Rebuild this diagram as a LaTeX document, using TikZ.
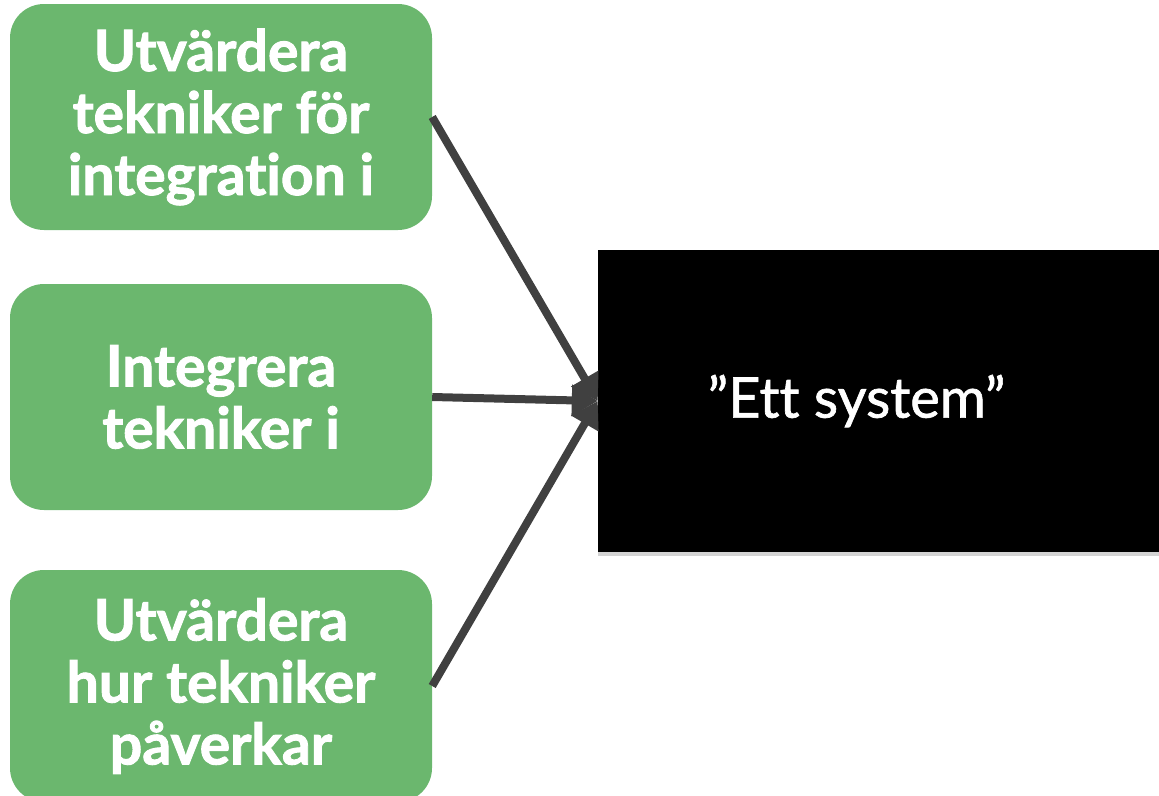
\documentclass[tikz,border=0pt]{standalone}
\usepackage{fontspec}
\setmainfont{Lato}[Ligatures=NoCommon, BoldFeatures={FakeBold=1.6}]
\newfontfamily\sysfont{Lato}[Ligatures=NoCommon, FakeBold=1.2]
\usetikzlibrary{arrows.meta,shadows}
\definecolor{boxgreen}{RGB}{107,183,110}
\definecolor{arrowgrey}{RGB}{64,64,64}
\tikzset{
  greenbox/.style={fill=boxgreen, rounded corners=34pt, minimum width=422pt,
    text=white, align=center, inner sep=0pt,
    font=\fontsize{57}{62}\selectfont\bfseries},
  blackbox/.style={fill=black, minimum width=561pt, minimum height=302pt,
    text=white, inner sep=0pt, font=\fontsize{56}{62}\sysfont,
    drop shadow={opacity=0.35, shadow xshift=0pt, shadow yshift=-4pt}},
  feed/.style={-{Triangle[length=26pt,width=30pt]}, line width=8pt, arrowgrey}
}
\begin{document}
\begin{tikzpicture}[x=1pt, y=-1pt]
    \useasboundingbox (0,0) rectangle (1159,795);
    \clip (0,0) rectangle (1159,795);
    \node[greenbox, minimum height=226pt] (evaluate) at (221,117) {Utvärdera\\tekniker för\\integration i};
    \node[greenbox, minimum height=226pt] (integrate) at (221,397) {Integrera\\tekniker i};
    \node[greenbox, minimum height=232pt] (impact) at (221,686) {Utvärdera\\hur tekniker\\påverkar};
    \node[blackbox] (system) at (878.5,401) {”Ett system”\hspace*{44pt}};
    \draw[feed] (evaluate.east) -- (system.west);
    \draw[feed] (integrate.east) -- (system.west);
    \draw[feed] (impact.east) -- (system.west);
  \end{tikzpicture}
\end{document}
